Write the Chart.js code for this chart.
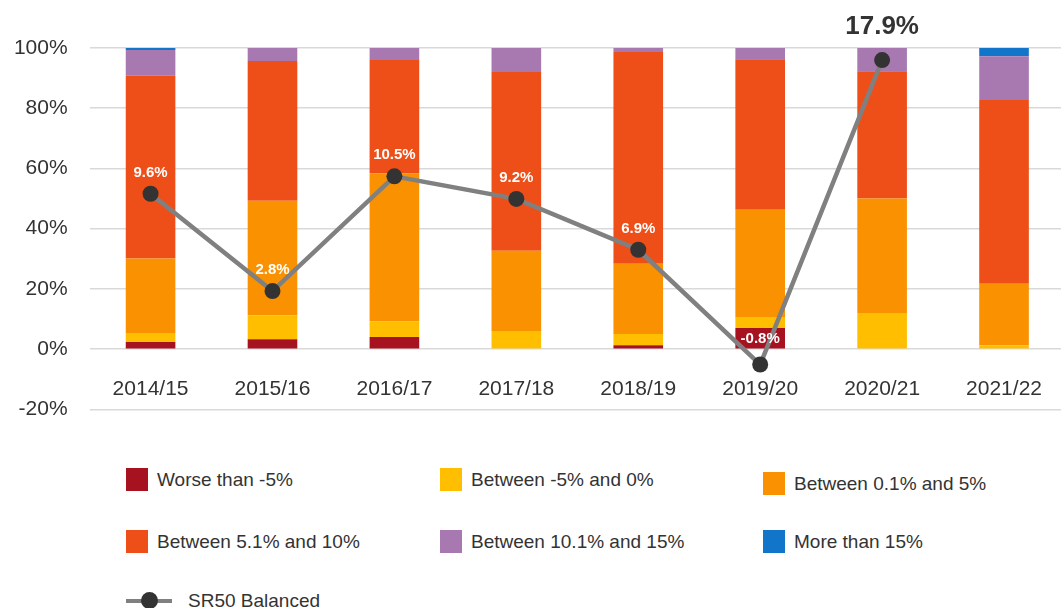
<!DOCTYPE html>
<html>
<head>
<meta charset="utf-8">
<script src="https://cdn.jsdelivr.net/npm/chart.js@4/dist/chart.umd.min.js"></script>
<style>
    html, body { margin: 0; padding: 0; background: #fff; overflow: hidden; width: 1061px; height: 608px; }
    body { position: relative; font-family: "Liberation Sans", Arial, sans-serif; color: #333; }
    #wrap { position: absolute; left: 0; top: 0; width: 1073px; height: 444px; }
    .lg { position: absolute; display: flex; align-items: center; font-size: 19px; color: #333; white-space: nowrap; }
    .sw { width: 22px; height: 23px; margin-right: 9px; }
    .lineSw { position: relative; width: 46px; height: 18px; margin-right: 16px; }
    .lineSw .bar { position: absolute; left: 0; right: 0; top: 7px; height: 4px; background: #808080; }
    .lineSw .dot { position: absolute; left: 15px; top: 0; width: 17px; height: 17px; border-radius: 50%; background: #333; }
</style>
</head>
<body>
<div id="wrap"><canvas id="chart" width="1073" height="444"></canvas></div>
<div id="legend"></div>
<script>
// Categories
const years = ['2014/15', '2015/16', '2016/17', '2017/18', '2018/19', '2019/20', '2020/21', '2021/22'];

// Share of schemes per funding band (%)
const worseThanMinus5 = [2.4, 3.3, 4.0, 0, 1.3, 7.0, 0, 0];
const minus5To0 = [3.0, 8.0, 5.3, 6.0, 3.7, 3.7, 12.0, 1.3];
const from01To5 = [24.7, 38.0, 49.1, 26.7, 23.4, 35.6, 38.0, 20.4];
const from51To10 = [60.7, 46.4, 37.6, 59.3, 70.3, 50.0, 42.3, 61.0];
const from101To15 = [8.5, 4.3, 4.0, 8.0, 1.3, 3.7, 7.7, 14.6];
const moreThan15 = [0.7, 0, 0, 0, 0, 0, 0, 2.7];

// SR50 Balanced: plotted position and its return label
const sr50Position = [51.6, 19.3, 57.4, 49.9, 33.0, -5.1, 96.0, null];
const sr50Labels = ['9.6%', '2.8%', '10.5%', '9.2%', '6.9%', '-0.8%', '17.9%', null];

const yTicks = [-20, 0, 20, 40, 60, 80, 100];

const bandNames = ['Worse than -5%', 'Between -5% and 0%', 'Between 0.1% and 5%',
    'Between 5.1% and 10%', 'Between 10.1% and 15%', 'More than 15%'];
const bandColors = ['#A6121F', '#FFBF00', '#FA9100', '#EE4E17', '#A879B0', '#1175C9'];
const bandData = [worseThanMinus5, minus5To0, from01To5, from51To10, from101To15, moreThan15];

const FONT = '"Liberation Sans", Arial, sans-serif';

const datasets = bandData.map((d, i) => ({
    type: 'bar',
    label: bandNames[i],
    data: d,
    backgroundColor: bandColors[i],
    borderWidth: 0,
    stack: 'bands',
    order: 1,
    categoryPercentage: 1,
    barPercentage: 0.407
}));

datasets.push({
    type: 'line',
    label: 'SR50 Balanced',
    data: sr50Position,
    borderColor: '#808080',
    borderWidth: 4.5,
    pointBackgroundColor: '#333',
    pointBorderColor: '#333',
    pointRadius: 8,
    pointBorderWidth: 0,
    tension: 0,
    spanGaps: false,
    order: 0
});

// Draws the SR50 return labels above each point
const pointLabels = {
    id: 'pointLabels',
    afterDatasetsDraw(chart) {
        const idx = chart.data.datasets.length - 1;
        const meta = chart.getDatasetMeta(idx);
        const ctx = chart.ctx;
        ctx.save();
        ctx.textAlign = 'center';
        ctx.textBaseline = 'middle';
        meta.data.forEach((pt, i) => {
            const txt = sr50Labels[i];
            if (!txt || sr50Position[i] === null) return;
            const isTop = sr50Position[i] > 90;
            if (isTop) {
                ctx.font = 'bold 26px ' + FONT;
                ctx.fillStyle = '#333';
                ctx.fillText(txt, pt.x, pt.y - 33);
            } else {
                ctx.font = 'bold 15px ' + FONT;
                ctx.fillStyle = '#fff';
                const off = sr50Position[i] < 0 ? 26 : 21;
                ctx.fillText(txt, pt.x, pt.y - off);
            }
        });
        ctx.restore();
    }
};

new Chart(document.getElementById('chart'), {
    data: { labels: years, datasets },
    options: {
        responsive: false,
        animation: false,
        layout: { padding: { top: 48, right: 0, bottom: 0, left: 0 } },
        plugins: {
            legend: { display: false },
            tooltip: { enabled: false }
        },
        scales: {
            x: {
                stacked: true,
                position: { y: 0 },
                grid: { display: false },
                border: { display: false },
                ticks: { color: '#333', font: { family: FONT, size: 21 }, padding: 19, maxRotation: 0 }
            },
            y: {
                stacked: true,
                min: -20,
                max: 100,
                afterBuildTicks: s => { s.ticks = yTicks.map(v => ({ value: v })); },
                afterFit: s => { s.width = 89.6; },
                grid: { color: '#d9d9d9', lineWidth: 1.5, drawTicks: false },
                border: { display: false },
                ticks: {
                    color: '#333',
                    font: { family: FONT, size: 21 },
                    padding: 22,
                    callback: v => v + '%'
                }
            }
        }
    },
    plugins: [pointLabels]
});

// HTML legend laid out like the reference
const legendPos = [
    [126, 468], [440, 468], [763, 472],
    [126, 530], [440, 530], [763, 530]
];
const legendEl = document.getElementById('legend');
bandNames.forEach((name, i) => {
    const item = document.createElement('div');
    item.className = 'lg';
    item.style.left = legendPos[i][0] + 'px';
    item.style.top = legendPos[i][1] + 'px';
    item.innerHTML = '<div class="sw" style="background:' + bandColors[i] + '"></div><span>' + name + '</span>';
    legendEl.appendChild(item);
});
const lineItem = document.createElement('div');
lineItem.className = 'lg';
lineItem.style.left = '126px';
lineItem.style.top = '590px';
lineItem.innerHTML = '<div class="lineSw"><div class="bar"></div><div class="dot"></div></div><span>SR50 Balanced</span>';
legendEl.appendChild(lineItem);
</script>
</body>
</html>
